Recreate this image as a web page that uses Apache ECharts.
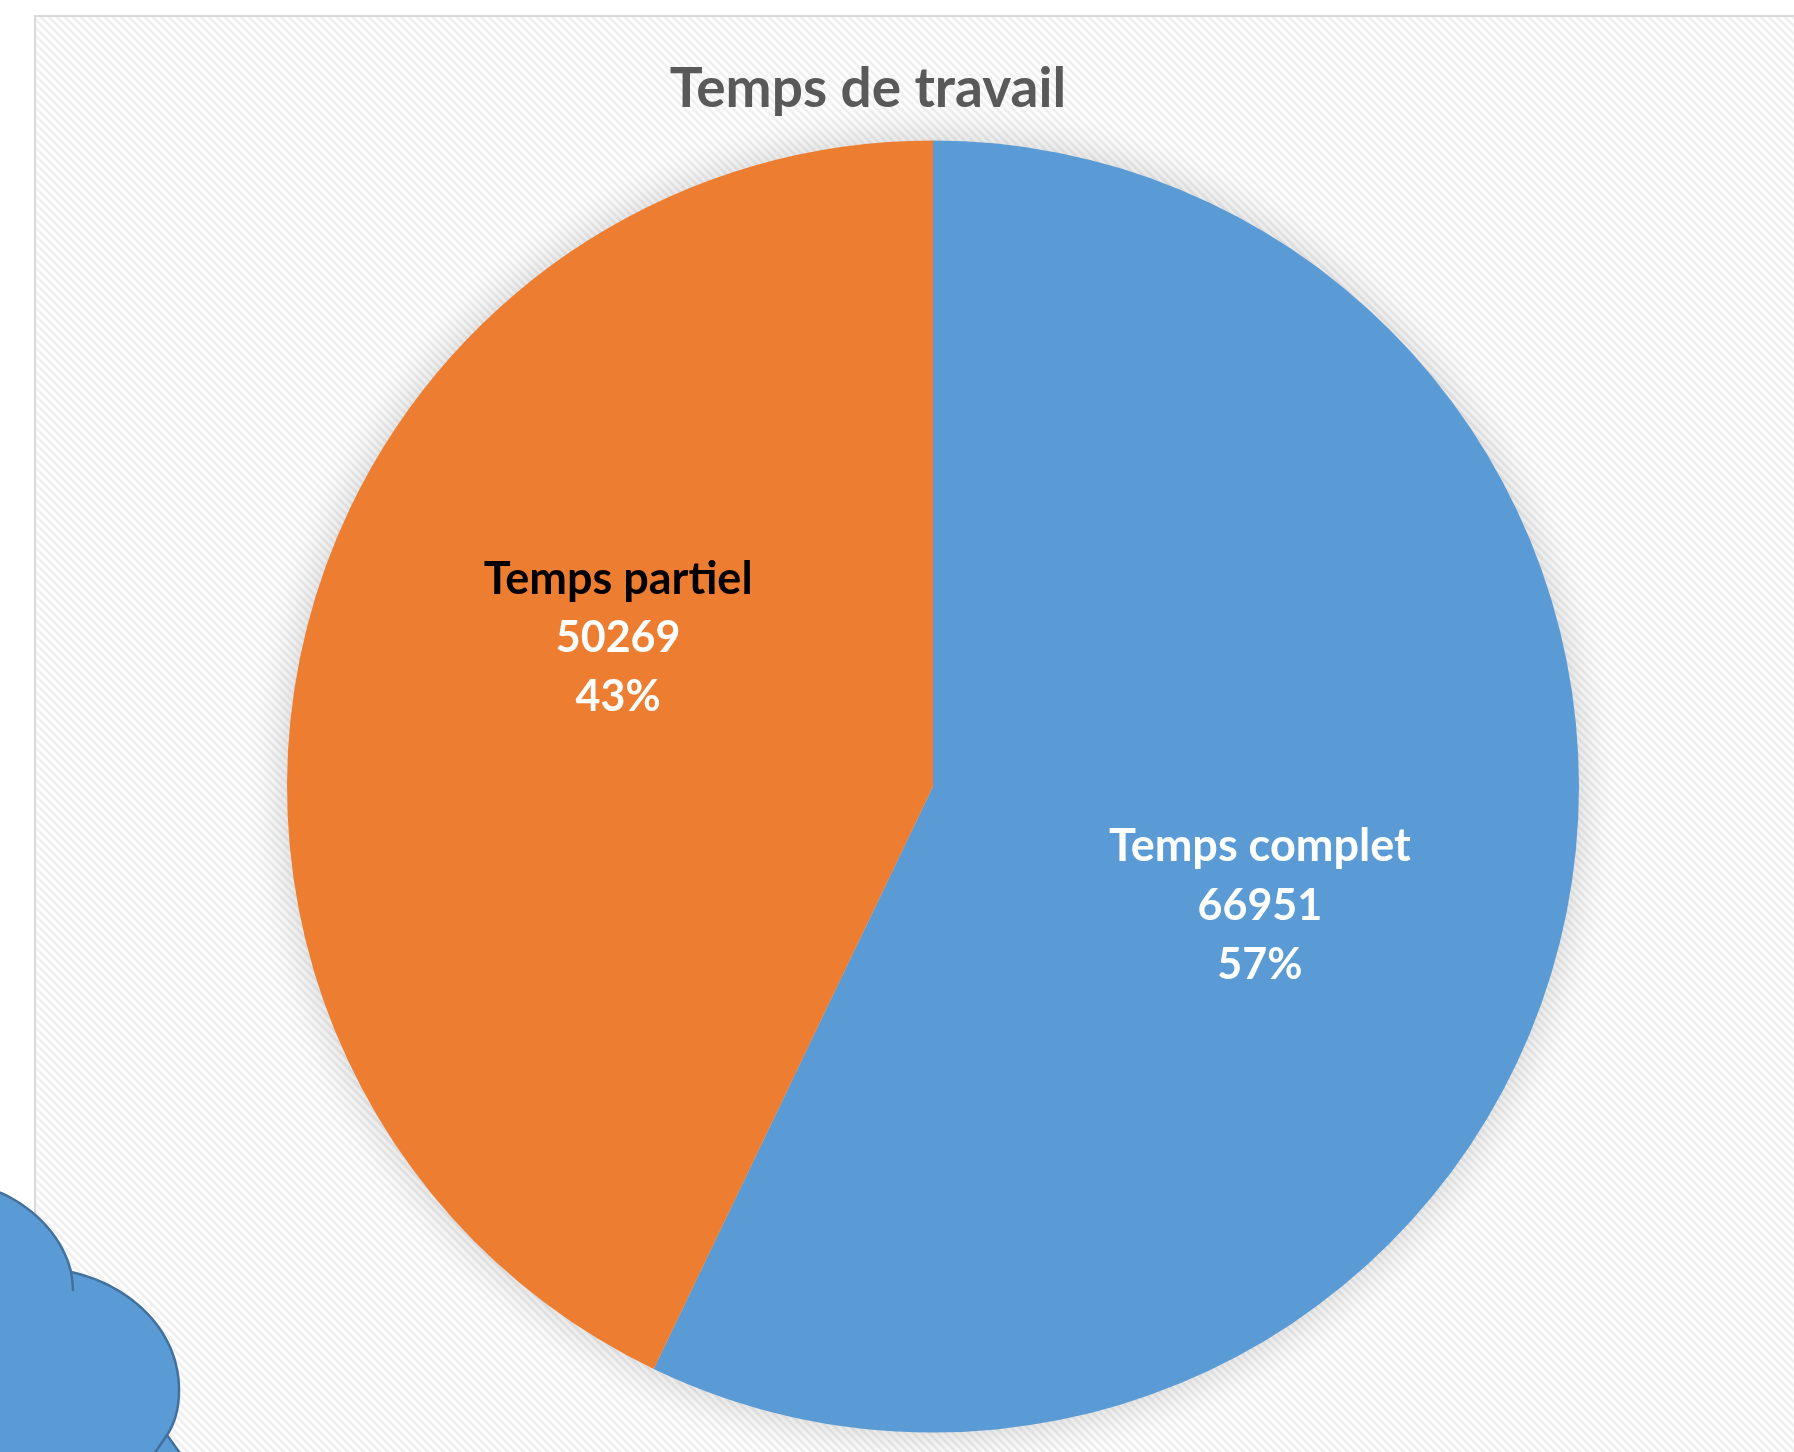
<!DOCTYPE html>
<html>
<head>
<meta charset="utf-8">
<title>Temps de travail</title>
<style>
  html, body { margin: 0; padding: 0; background: #fff; }
  #main { width: 1794px; height: 1452px; }
</style>
<script src="https://cdn.jsdelivr.net/npm/echarts@6/dist/echarts.min.js"></script>
</head>
<body>
<div id="main"></div>
<script>
var categories = ['Temps complet', 'Temps partiel'];
var values = [66951, 50269];
var colors = ['#5B9BD5', '#ED7D31'];
var nameColors = ['#FFFFFF', '#000000'];
var labelOffsets = [[9, 47], [3, -76]];

// hatch of the plot area
function makeHatch() {
  var c = document.createElement('canvas');
  c.width = 8;
  c.height = 8;
  var ctx = c.getContext('2d');
  ctx.fillStyle = '#ffffff';
  ctx.fillRect(0, 0, 8, 8);
  ctx.strokeStyle = '#f0f0f0';
  ctx.lineWidth = 3;
  [-8, 0, 8].forEach(function (d) {
    ctx.beginPath();
    ctx.moveTo(d - 1, -1);
    ctx.lineTo(d + 9, 9);
    ctx.stroke();
  });
  return c;
}

// graphic has no svg path type, so the cloud outline is sampled into polygon points
function sampleCurve(p0, c1, c2, p1) {
  var pts = [];
  for (var i = 0; i <= 40; i++) {
    var t = i / 40, u = 1 - t;
    pts.push([
      u * u * u * p0[0] + 3 * u * u * t * c1[0] + 3 * u * t * t * c2[0] + t * t * t * p1[0],
      u * u * u * p0[1] + 3 * u * u * t * c1[1] + 3 * u * t * t * c2[1] + t * t * t * p1[1]
    ]);
  }
  return pts;
}
var cloudPoints = [].concat(
  sampleCurve([-6, 1190], [30, 1204], [62, 1234], [71, 1272]),
  sampleCurve([71, 1272], [130, 1285], [179, 1330], [179, 1390]),
  sampleCurve([179, 1390], [179, 1408], [175, 1423], [167, 1435]),
  [[182, 1456], [-6, 1456]]
);

var total = values[0] + values[1];
var pieData = categories.map(function (name, i) {
  return {
    name: name,
    value: values[i],
    itemStyle: { color: colors[i] },
    label: {
      offset: labelOffsets[i],
      rich: {
        n: { color: nameColors[i], fontFamily: 'Lato', fontWeight: 'bold', fontSize: 45, lineHeight: 59 },
        v: { color: '#FFFFFF', fontFamily: 'Lato', fontWeight: 'bold', fontSize: 43, lineHeight: 59 }
      }
    }
  };
});

var chart = echarts.init(document.getElementById('main'));
var option = {
  animation: false,
  backgroundColor: '#FFFFFF',
  title: {
    text: 'Temps de travail',
    left: 863,
    top: 57,
    textAlign: 'center',
    textStyle: { color: '#595959', fontFamily: 'Lato', fontWeight: 'bold', fontSize: 55 }
  },
  graphic: [
    {
      type: 'rect',
      z: -10,
      shape: { x: 35, y: 16, width: 1900, height: 1600 },
      style: { fill: { image: makeHatch(), repeat: 'repeat' }, stroke: '#D9D9D9', lineWidth: 2 }
    },
    {
      // cloud in the lower left corner
      type: 'polygon',
      z: 50,
      shape: { points: cloudPoints },
      style: { fill: '#5B9BD5', stroke: '#41719C', lineWidth: 2.5 }
    },
    {
      type: 'bezierCurve',
      z: 51,
      shape: { x1: 71, y1: 1272, cpx1: 72, cpy1: 1278, cpx2: 73, cpy2: 1284, x2: 73, y2: 1291 },
      style: { fill: 'none', stroke: '#41719C', lineWidth: 2.5 }
    },
    {
      type: 'bezierCurve',
      z: 51,
      shape: { x1: 167, y1: 1435, cpx1: 163, cpy1: 1441, cpx2: 159, cpy2: 1447, x2: 154, y2: 1454 },
      style: { fill: 'none', stroke: '#41719C', lineWidth: 2.5 }
    }
  ],
  series: [
    {
      // only carries the soft shadow round the whole pie
      type: 'pie',
      silent: true,
      z: 1,
      radius: 644,
      center: [933, 786.5],
      label: { show: false },
      labelLine: { show: false },
      itemStyle: { color: '#D0D0D0', shadowBlur: 44, shadowColor: 'rgba(0,0,0,0.2)' },
      data: [{ name: 'ombre', value: total }]
    },
    {
      name: 'Temps de travail',
      type: 'pie',
      z: 2,
      radius: 646,
      center: [933, 786.5],
      startAngle: 90,
      clockwise: true,
      percentPrecision: 0,
      label: {
        position: 'inside',
        formatter: '{n|{b}}\n{v|{c}}\n{v|{d}%}',
        align: 'center'
      },
      labelLine: { show: false },
      data: pieData
    }
  ]
};
chart.setOption(option);
</script>
</body>
</html>
